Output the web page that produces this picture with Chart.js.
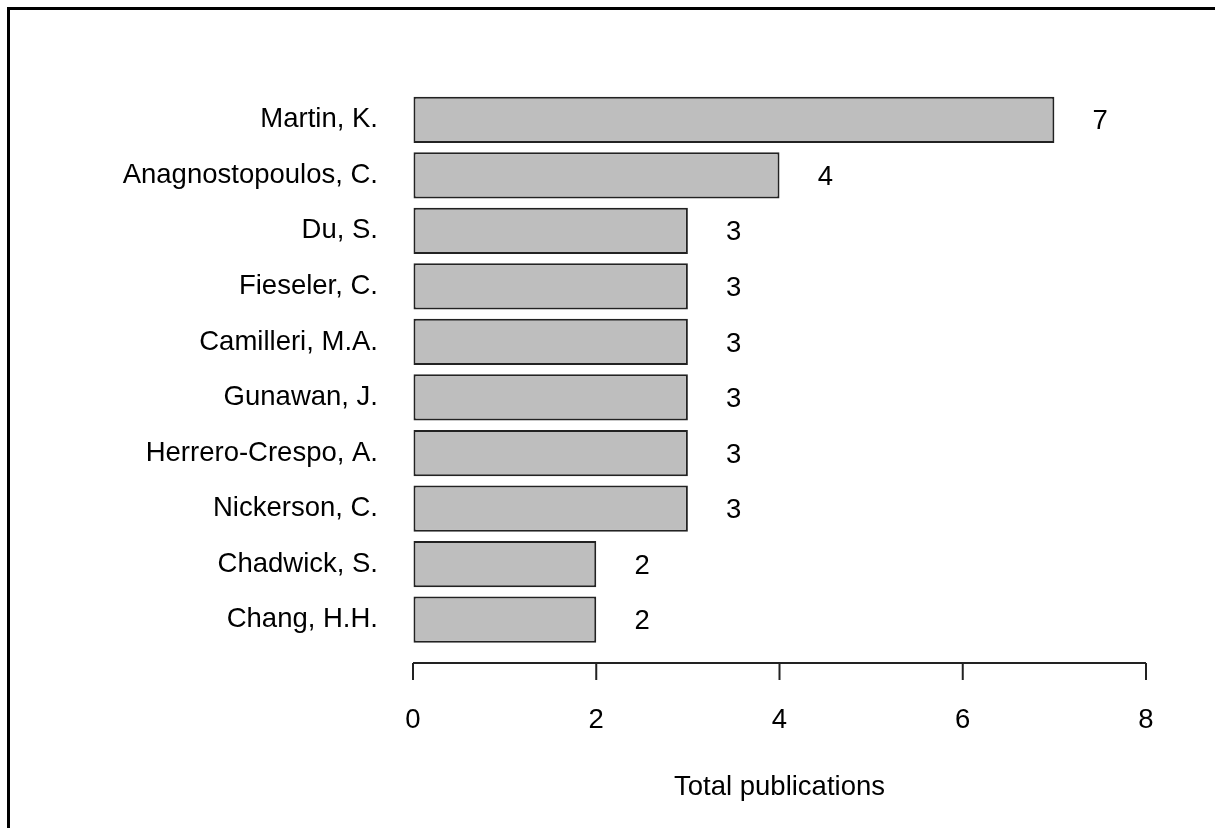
<!DOCTYPE html>
<html>
<head>
<meta charset="utf-8">
<script src="https://cdn.jsdelivr.net/npm/chart.js@4"></script>
<style>
  html, body { margin: 0; padding: 0; background: #fff; overflow: hidden; }
  #wrap { position: relative; width: 1215px; height: 828px; }
  #frame { position: absolute; left: 7px; top: 7px; width: 1400px; height: 1000px;
           border-left: 3px solid #000; border-top: 3px solid #000; pointer-events: none; }
</style>
</head>
<body>
<div id="wrap">
  <canvas id="myChart" width="1215" height="828"></canvas>
  <div id="frame"></div>
</div>
<script>
const authors = ["Martin, K.", "Anagnostopoulos, C.", "Du, S.", "Fieseler, C.", "Camilleri, M.A.",
  "Gunawan, J.", "Herrero-Crespo, A.", "Nickerson, C.", "Chadwick, S.", "Chang, H.H."];
const publications = [7, 4, 3, 3, 3, 3, 3, 3, 2, 2];
const xTicks = [0, 2, 4, 6, 8];
const xTitle = "Total publications";

const fontFamily = "'Liberation Sans', Arial, sans-serif";
const fontSize = 27.5;

// R style axis: line from first to last tick, sitting below the plot area
const baseAxis = {
  id: "baseAxis",
  afterDraw(chart) {
    const ctx = chart.ctx;
    const x = chart.scales.x;
    const y = 663;
    ctx.save();
    ctx.strokeStyle = "#222";
    ctx.lineWidth = 2;
    ctx.beginPath();
    ctx.moveTo(x.getPixelForValue(xTicks[0]), y);
    ctx.lineTo(x.getPixelForValue(xTicks[xTicks.length - 1]), y);
    xTicks.forEach(t => {
      const px = x.getPixelForValue(t);
      ctx.moveTo(px, y);
      ctx.lineTo(px, y + 17);
    });
    ctx.stroke();
    ctx.restore();
  }
};

// numbers next to each bar
const barValues = {
  id: "barValues",
  afterDatasetsDraw(chart) {
    const ctx = chart.ctx;
    const x = chart.scales.x;
    const meta = chart.getDatasetMeta(0);
    ctx.save();
    ctx.font = fontSize + "px " + fontFamily;
    ctx.fillStyle = "#000";
    ctx.textAlign = "center";
    ctx.textBaseline = "middle";
    meta.data.forEach((bar, i) => {
      const v = publications[i];
      ctx.fillText(String(v), x.getPixelForValue(v + 0.5), bar.y + 2);
    });
    ctx.restore();
  }
};

new Chart(document.getElementById("myChart"), {
  type: "bar",
  data: {
    labels: authors,
    datasets: [{
      data: publications,
      backgroundColor: "#bebebe",
      borderColor: "#222",
      borderWidth: 2,
      borderSkipped: false,
      barPercentage: 0.833,
      categoryPercentage: 1
    }]
  },
  options: {
    indexAxis: "y",
    responsive: false,
    animation: false,
    layout: { padding: { top: 92, right: 69, bottom: 24, left: 0 } },
    plugins: { legend: { display: false }, tooltip: { enabled: false } },
    scales: {
      x: {
        min: 0,
        max: 8,
        afterBuildTicks: (s) => { s.ticks = xTicks.map(v => ({ value: v })); },
        afterFit: (s) => { s.height = 156.6; },
        grid: { display: true, drawOnChartArea: false, drawTicks: false, color: "transparent" },
        border: { display: false },
        ticks: { padding: 57, color: "#000", font: { family: fontFamily, size: fontSize }, maxRotation: 0 },
        title: { display: true, text: xTitle, color: "#000", font: { family: fontFamily, size: fontSize }, padding: 0 }
      },
      y: {
        afterFit: (s) => { s.width = 413; },
        grid: { display: false, drawTicks: false },
        border: { display: false },
        ticks: { padding: 35, color: "#000", font: { family: fontFamily, size: fontSize } }
      }
    }
  },
  plugins: [baseAxis, barValues]
});
</script>
</body>
</html>
